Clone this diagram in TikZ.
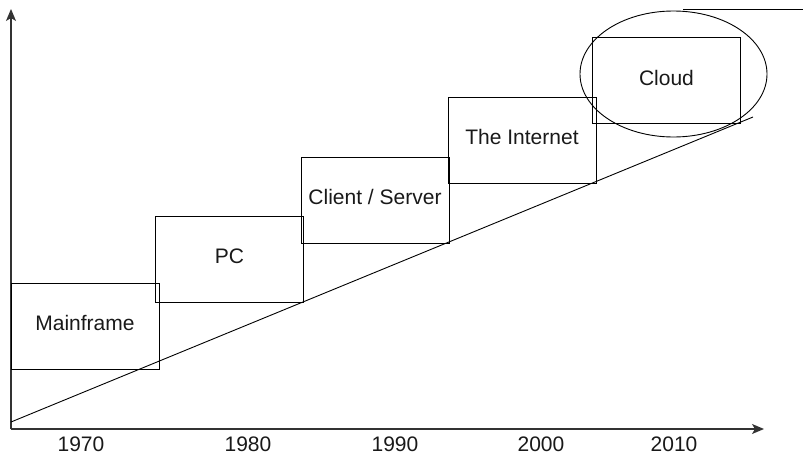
\documentclass[tikz,border=0pt]{standalone}
\usepackage{fontspec}
\setmainfont{Liberation Sans}
\usetikzlibrary{arrows.meta,shapes.geometric}
\begin{document}
\begin{tikzpicture}[x=1pt,y=-1pt,
  axis/.style={draw=black!80, line width=1.2pt, -{Stealth[length=12pt,width=10pt,inset=3pt]}},
  era/.style={draw=black, line width=0.95pt, rectangle, minimum width=148pt, minimum height=86pt, inner sep=0pt},
  lbl/.style={font=\fontsize{21}{24}\selectfont, inner sep=0pt, text=black!90},
  yr/.style={font=\fontsize{21}{24}\selectfont, inner sep=0pt, text=black!90},
  trend/.style={draw=black, line width=0.9pt}]
\useasboundingbox (0,0) rectangle (803,455);

% axes
\coordinate (origin) at (11,429);
\coordinate (ytip) at (11,9);
\coordinate (xtip) at (764,429);
\draw[axis] (origin) -- (ytip);
\draw[axis] (origin) -- (xtip);

% era boxes
\node[era] (mf) at (85,326) {};
\node[era] (pc) at (229.5,259) {};
\node[era] (cs) at (375,200) {};
\node[era] (net) at (522,140) {};
\node[era] (cloud) at (666.5,80.5) {};

\node[lbl] at ([yshift=3pt]mf.center) {Mainframe};
\node[lbl] at ([yshift=3pt]pc.center) {PC};
\node[lbl] at ([yshift=3pt]cs.center) {Client / Server};
\node[lbl] at ([yshift=3pt]net.center) {The Internet};
\node[lbl] at ([yshift=3pt]cloud.center) {Cloud};

% growth trend
\coordinate (tstart) at (11,422);
\coordinate (tend) at (753,117);
\draw[trend] (tstart) -- (tend);

% highlight around the cloud era
\node[draw=black, line width=0.9pt, ellipse, minimum width=187pt, minimum height=126pt, inner sep=0pt] (ring) at (673.5,74) {};
\coordinate (lead) at (803,9);
\draw[line width=0.9pt] (683,9) -- (lead);

% decade labels
\node[yr] (y70) at (81,444) {1970};
\node[yr] (y80) at (248,444) {1980};
\node[yr] (y90) at (395,444) {1990};
\node[yr] (y00) at (541,444) {2000};
\node[yr] (y10) at (674,444) {2010};
\end{tikzpicture}
\end{document}
